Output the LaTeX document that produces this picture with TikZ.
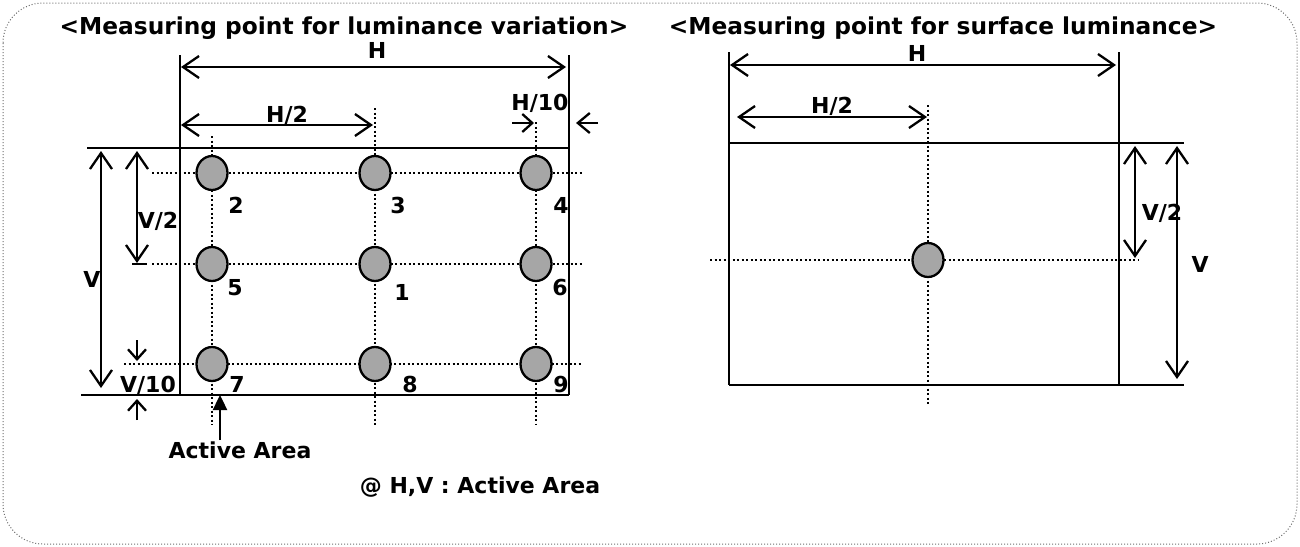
\documentclass[tikz,border=0pt]{standalone}
\usepackage{fontspec}
\newfontfamily\lab{DejaVu Sans}
\usetikzlibrary{arrows.meta,shapes.geometric}
\definecolor{spotgray}{HTML}{A6A6A6}
\definecolor{framegray}{HTML}{6E6E6E}
\begin{document}
\begin{tikzpicture}[x=1pt,y=-1pt,
  edge/.style={line width=2.7pt},
  dots/.style={line width=2.3pt, dash pattern=on 2.2pt off 2.3pt},
  dim/.style={line width=2.3pt, {Straight Barb[length=16pt,width=22pt]}-{Straight Barb[length=16pt,width=22pt]}},
  small/.style={line width=2.3pt, -{Straight Barb[length=12pt,width=20pt]}},
  tiny/.style={line width=2.3pt, -{Straight Barb[length=10pt,width=18pt]}},
  pointer/.style={line width=2.4pt, -{Triangle[length=15pt,width=14pt]}},
  spot/.style={ellipse, draw, line width=2.3pt, fill=spotgray, minimum width=31pt, minimum height=34pt, inner sep=0pt},
  lbl/.style={font=\lab\bfseries\fontsize{22}{26}\selectfont, inner sep=0pt, anchor=base},
  ttl/.style={font=\lab\bfseries\fontsize{23.3}{28}\selectfont, inner sep=0pt, anchor=base},
]
\useasboundingbox (0,0) rectangle (1300,546);
% frame
\draw[framegray, line width=1pt, dotted, rounded corners=40pt] (3,3) rectangle (1297,544);

% titles
\node[ttl] (t1) at (344,34) {<Measuring point for luminance variation>};
\node[ttl] (t2) at (943,34) {<Measuring point for surface luminance>};

% ================= left diagram =================
\coordinate (aLT) at (180,55);  \coordinate (aLB) at (180,395);
\coordinate (aRT) at (569,55);  \coordinate (aRB) at (569,395);
\coordinate (aTl) at (87,148);  \coordinate (aTr) at (569,148);
\coordinate (aBl) at (81,395);  \coordinate (aBr) at (569,395);
% dotted grid
\coordinate (r1a) at (152,173); \coordinate (r1b) at (582,173);
\coordinate (r2a) at (152,264); \coordinate (r2b) at (582,264);
\coordinate (r3a) at (124,364); \coordinate (r3b) at (582,364);
\coordinate (c1a) at (212,136); \coordinate (c1b) at (212,425);
\coordinate (c2a) at (375,108); \coordinate (c2b) at (375,425);
\coordinate (c3a) at (536,122); \coordinate (c3b) at (536,425);
\draw[dots] (r1a) -- (r1b);
\draw[dots] (r2a) -- (r2b);
\draw[dots] (r3a) -- (r3b);
\draw[dots] (c1a) -- (c1b);
\draw[dots] (c2a) -- (c2b);
\draw[dots] (c3a) -- (c3b);
% frame lines
\draw[edge] (aLT) -- (aLB);
\draw[edge] (aRT) -- (aRB);
\draw[edge] (aTl) -- (aTr);
\draw[edge] (aBl) -- (aBr);
\coordinate (v2e1) at (132,264); \coordinate (v2e2) at (147,264);
\draw[edge] (v2e1) -- (v2e2);
% spots
\node[spot] (p2) at (212,173) {};
\node[spot] (p3) at (375,173) {};
\node[spot] (p4) at (536,173) {};
\node[spot] (p5) at (212,264) {};
\node[spot] (p1) at (375,264) {};
\node[spot] (p6) at (536,264) {};
\node[spot] (p7) at (212,364) {};
\node[spot] (p8) at (375,364) {};
\node[spot] (p9) at (536,364) {};
% numbers
\node[lbl] (n2) at (236,213) {2};
\node[lbl] (n3) at (398,213) {3};
\node[lbl] (n4) at (561,213) {4};
\node[lbl] (n5) at (235,295) {5};
\node[lbl] (n1) at (402,300) {1};
\node[lbl] (n6) at (560,295) {6};
\node[lbl] (n7) at (237,392) {7};
\node[lbl] (n8) at (410,392) {8};
\node[lbl] (n9) at (561,392) {9};
% dimensions
\coordinate (hA) at (181,67);  \coordinate (hB) at (566,67);
\draw[dim] (hA) -- (hB);
\node[lbl] (hL) at (377,58) {H};
\coordinate (h2A) at (181,125); \coordinate (h2B) at (373,125);
\draw[dim] (h2A) -- (h2B);
\node[lbl] (h2L) at (287,122) {H/2};
\coordinate (h10a) at (512,123); \coordinate (h10b) at (534,123);
\draw[tiny] (h10a) -- (h10b);
\coordinate (h10c) at (598,123); \coordinate (h10d) at (576,123);
\draw[small] (h10c) -- (h10d);
\node[lbl] (h10L) at (540,110) {H/10};
\coordinate (vA) at (101,151); \coordinate (vB) at (101,388);
\draw[dim] (vA) -- (vB);
\node[lbl] (vL) at (92,287) {V};
\coordinate (v2A) at (137,151); \coordinate (v2B) at (137,263);
\draw[dim] (v2A) -- (v2B);
\node[lbl] (v2L) at (158,228) {V/2};
\coordinate (v10a) at (137,340); \coordinate (v10b) at (137,361);
\draw[tiny] (v10a) -- (v10b);
\coordinate (v10c) at (137,420); \coordinate (v10d) at (137,399);
\draw[tiny] (v10c) -- (v10d);
\node[lbl] (v10L) at (148,392) {V/10};
% active area pointer
\coordinate (aaA) at (220,440); \coordinate (aaB) at (220,395);
\draw[pointer] (aaA) -- (aaB);
\node[lbl] (aaL) at (240,458) {Active Area};
\node[lbl] (note) at (480,493) {@ H,V : Active Area};

% ================= right diagram =================
\coordinate (bLT) at (729,52);  \coordinate (bLB) at (729,385);
\coordinate (bRT) at (1119,52); \coordinate (bRB) at (1119,385);
\coordinate (bTl) at (729,143); \coordinate (bTr) at (1184,143);
\coordinate (bBl) at (729,385); \coordinate (bBr) at (1184,385);
\coordinate (sra) at (710,260); \coordinate (srb) at (1139,260);
\coordinate (sca) at (928,105); \coordinate (scb) at (928,405);
\draw[dots] (sra) -- (srb);
\draw[dots] (sca) -- (scb);
\draw[edge] (bLT) -- (bLB);
\draw[edge] (bRT) -- (bRB);
\draw[edge] (bTl) -- (bTr);
\draw[edge] (bBl) -- (bBr);
\node[spot] (q1) at (928,260) {};
\coordinate (qhA) at (730,65);  \coordinate (qhB) at (1116,65);
\draw[dim] (qhA) -- (qhB);
\node[lbl] (qhL) at (917,61) {H};
\coordinate (qh2A) at (737,117); \coordinate (qh2B) at (927,117);
\draw[dim] (qh2A) -- (qh2B);
\node[lbl] (qh2L) at (832,113) {H/2};
\coordinate (qv2A) at (1135,146); \coordinate (qv2B) at (1135,258);
\draw[dim] (qv2A) -- (qv2B);
\node[lbl] (qv2L) at (1162,220) {V/2};
\coordinate (qvA) at (1177,146); \coordinate (qvB) at (1177,379);
\draw[dim] (qvA) -- (qvB);
\node[lbl] (qvL) at (1200,272) {V};
\end{tikzpicture}
\end{document}
